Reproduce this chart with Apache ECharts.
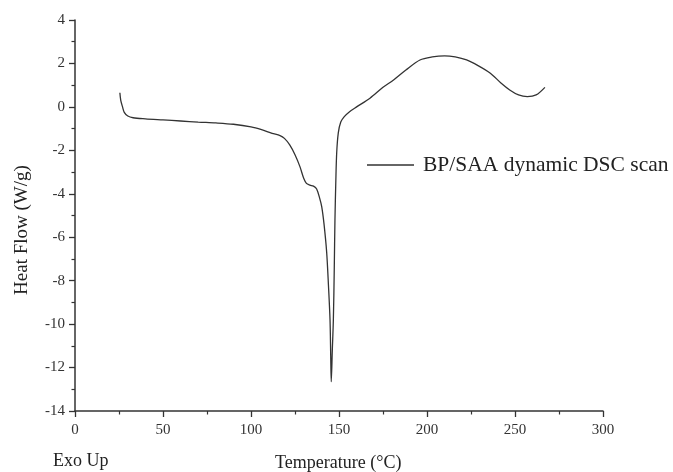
<!DOCTYPE html>
<html>
<head>
<meta charset="utf-8">
<script src="https://cdn.jsdelivr.net/npm/echarts@6/dist/echarts.min.js"></script>
<style>
html,body{margin:0;padding:0;background:#fff;}
#c{width:673px;height:472px;}
</style>
</head>
<body>
<div id="c"></div>
<script>
const temperature = [25.5, 26, 27, 28, 30, 33, 40, 50, 60, 70, 80, 90, 100, 106, 112, 116.5, 119, 122, 125, 127.8, 130, 131.5, 133.5, 135.5, 137.3, 139, 140.2, 141.5, 143, 144, 144.9, 145.3, 145.6, 146.2, 146.8, 147.3, 147.7, 148.2, 148.7, 149.6, 151, 153, 156, 160, 167.6, 175, 181, 188, 196, 203, 210, 216, 222.5, 229, 236, 242, 247, 252, 257, 262, 267];
const heatFlow = [0.65, 0.3, 0.0, -0.25, -0.42, -0.5, -0.55, -0.6, -0.65, -0.7, -0.74, -0.8, -0.92, -1.05, -1.22, -1.32, -1.45, -1.75, -2.2, -2.75, -3.3, -3.52, -3.6, -3.65, -3.78, -4.2, -4.6, -5.4, -6.7, -8.2, -9.8, -11.5, -12.65, -11.2, -9.8, -7.5, -5.2, -3.4, -2.1, -1.2, -0.7, -0.45, -0.22, 0, 0.4, 0.9, 1.24, 1.7, 2.16, 2.3, 2.35, 2.3, 2.16, 1.9, 1.55, 1.1, 0.78, 0.55, 0.47, 0.55, 0.9];
const seriesName = 'BP/SAA dynamic DSC scan';
const xTitle = 'Temperature (\u00B0C)';
const yTitle = 'Heat Flow (W/g)';
const cornerNote = 'Exo Up';

const font = '"Liberation Serif", "DejaVu Serif", serif';
const ink = '#333';
const chart = echarts.init(document.getElementById('c'), null, {renderer: 'canvas'});
chart.setOption({
  animation: false,
  backgroundColor: '#fff',
  color: ['#333'],
  grid: {left: 75, right: 70, top: 20, bottom: 61, containLabel: false},
  legend: {
    data: [{name: seriesName, icon: 'rect'}],
    left: 362, top: 149,
    itemWidth: 47, itemHeight: 1.4, itemGap: 10,
    itemStyle: {color: '#333', borderWidth: 0},
    textStyle: {fontFamily: font, fontSize: 21.5, color: '#222', padding: [0,0,0,4]}
  },
  xAxis: {
    type: 'value', min: 0, max: 300, interval: 50,
    axisLine: {show: true, onZero: false, lineStyle: {color: ink, width: 1.5}},
    axisTick: {show: true, inside: false, length: 6, lineStyle: {color: ink, width: 1.3}},
    minorTick: {show: true, splitNumber: 2, length: 3.5, lineStyle: {color: ink, width: 1.2}},
    splitLine: {show: false},
    axisLabel: {fontFamily: font, fontSize: 15, color: '#333', margin: 12}
  },
  yAxis: {
    type: 'value', min: -14, max: 4, interval: 2,
    axisLine: {show: true, onZero: false, lineStyle: {color: ink, width: 1.5}},
    axisTick: {show: true, inside: false, length: 6, lineStyle: {color: ink, width: 1.3}},
    minorTick: {show: true, splitNumber: 2, length: 3.5, lineStyle: {color: ink, width: 1.2}},
    splitLine: {show: false},
    axisLabel: {fontFamily: font, fontSize: 15, color: '#333', margin: 10}
  },
  graphic: [
    {type: 'text', left: 275, top: 454, style: {text: xTitle, font: '18px ' + font, fill: '#222'}},
    {type: 'text', left: 53, top: 452, style: {text: cornerNote, font: '18px ' + font, fill: '#222'}},
    {type: 'text', x: 22, y: 230, rotation: Math.PI / 2,
     style: {text: yTitle, font: '19px ' + font, fill: '#222', align: 'center', verticalAlign: 'middle'}}
  ],
  series: [{
    name: seriesName,
    type: 'line',
    data: temperature.map((t, i) => [t, heatFlow[i]]),
    symbol: 'none',
    smooth: 0.3,
    lineStyle: {color: '#333', width: 1.3}
  }]
});
</script>
</body>
</html>
